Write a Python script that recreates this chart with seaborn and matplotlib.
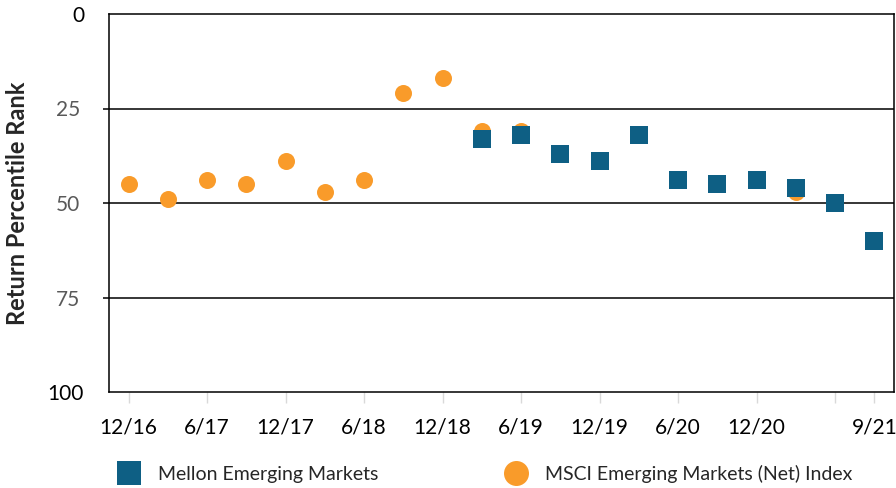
import numpy as np
import pandas as pd
import matplotlib
matplotlib.use("Agg")
import matplotlib.pyplot as plt
from matplotlib.lines import Line2D
import seaborn as sns

# Quarter-end dates (20 quarters, 12/16 through 9/21)
quarters = ["12/16", "3/17", "6/17", "9/17", "12/17", "3/18", "6/18", "9/18",
            "12/18", "3/19", "6/19", "9/19", "12/19", "3/20", "6/20", "9/20",
            "12/20", "3/21", "6/21", "9/21"]

# Return percentile ranks
mellon_rank = [np.nan] * 9 + [33, 32, 37, 39, 32, 44, 45, 44, 46, 50, 60]
msci_rank = [45, 49, 44, 45, 39, 47, 44, 21, 17, 31, 31,
             np.nan, np.nan, np.nan, np.nan, np.nan, np.nan, 47, np.nan, np.nan]

tick_labels = ["12/16", "6/17", "12/17", "6/18", "12/18", "6/19",
               "12/19", "6/20", "12/20", "", "9/21"]
tick_quarters = ["12/16", "6/17", "12/17", "6/18", "12/18", "6/19",
                 "12/19", "6/20", "12/20", "6/21", "9/21"]

series_names = ["Mellon Emerging Markets", "MSCI Emerging Markets (Net) Index"]
blue = "#0E5F84"
orange = "#F99B2A"

df = pd.DataFrame({
    "pos": np.arange(len(quarters)),
    "quarter": quarters,
    "mellon": mellon_rank,
    "msci": msci_rank,
})

sns.set_theme(style="white")
plt.rcParams["font.family"] = ["Lato", "DejaVu Sans"]

fig = plt.figure(figsize=(8.96, 4.88), dpi=100)
ax = fig.add_axes([109 / 896, 1 - 392 / 488, 785 / 896, 378 / 488])

sns.scatterplot(data=df, x="pos", y="msci", ax=ax, marker="o", s=150,
                color=orange, linewidth=0, zorder=3, legend=False)
sns.scatterplot(data=df, x="pos", y="mellon", ax=ax, marker="s", s=150,
                color=blue, linewidth=0, zorder=4, legend=False)

ax.set_xlim(-0.5, len(quarters) - 0.5)
ax.set_ylim(100, 0)

# Horizontal reference lines
for v in (25, 50, 75):
    ax.axhline(v, color="black", linewidth=1.1, zorder=1)

# Y ticks: marked at 25/50/75 (grey labels), unmarked at 0 and 100
ax.set_yticks([25, 50, 75])
ax.set_yticklabels(["25", "50", "75"])
ax.set_yticks([0, 100], minor=True)
ax.set_yticklabels(["0", "100"], minor=True)
ax.tick_params(axis="y", which="major", direction="out", length=4.5, width=1.1,
               color="black", pad=16, labelsize=15, labelcolor="#595959", left=True)
ax.tick_params(axis="y", which="minor", length=0, pad=18, labelsize=15,
               labelcolor="black", left=True)

# X ticks
ax.set_xticks([quarters.index(q) for q in tick_quarters])
ax.set_xticklabels(tick_labels)
ax.tick_params(axis="x", which="major", direction="out", length=8, width=1,
               color="#D9D9D9", pad=10, labelsize=15, labelcolor="black", bottom=True)

ax.set_xlabel("")
ax.set_ylabel("Return Percentile Rank", fontsize=17, fontweight="bold",
              va="center")
ax.yaxis.set_label_coords(-0.116, 0.5)

for side in ("top", "right", "left", "bottom"):
    ax.spines[side].set_visible(True)
    ax.spines[side].set_color("black")
    ax.spines[side].set_linewidth(1.1)

handles = [
    Line2D([], [], linestyle="none", marker="s", markersize=17,
           markerfacecolor=blue, markeredgewidth=0),
    Line2D([], [], linestyle="none", marker="o", markersize=18,
           markerfacecolor=orange, markeredgewidth=0),
]
fig.legend(handles, series_names, loc="center left",
           bbox_to_anchor=(119 / 896, 1 - 474 / 488), ncol=2, frameon=False,
           fontsize=14, handlelength=1.0, handletextpad=1.0,
           columnspacing=6.6, borderaxespad=0, borderpad=0)

fig.savefig("out.png", dpi=100)
